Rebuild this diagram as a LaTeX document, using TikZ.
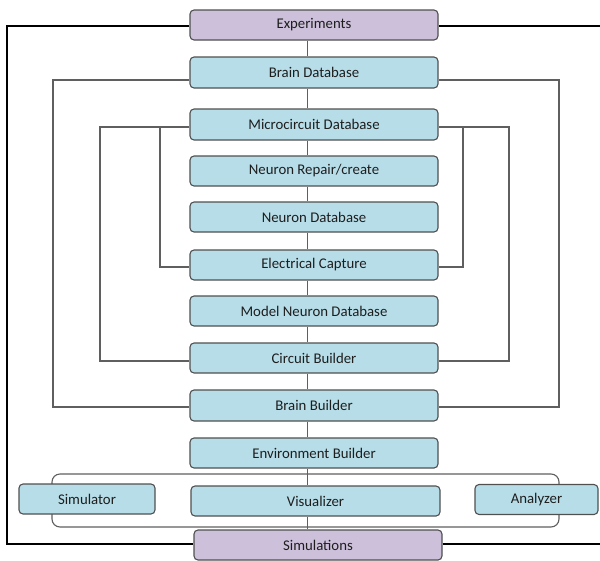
\documentclass[tikz,border=0pt]{standalone}
\usepackage{fontspec}
\setmainfont{Carlito}
\usetikzlibrary{calc}
\definecolor{boxblue}{RGB}{183,221,232}
\definecolor{boxpurple}{RGB}{204,192,218}
\definecolor{boxedge}{RGB}{80,80,80}
\definecolor{linkgray}{RGB}{95,95,95}
\definecolor{txt}{RGB}{30,30,30}
\tikzset{
  stage/.style={draw=boxedge, line width=1.1pt, rounded corners=4pt, fill=boxblue,
    minimum width=248pt, minimum height=30pt, inner sep=0pt, text=txt,
    font=\fontsize{14.8}{16}\selectfont},
  endpoint/.style={stage, fill=boxpurple},
  outerlink/.style={draw=black, line width=1.1pt},
  innerlink/.style={draw=linkgray, line width=1.1pt},
  spinelink/.style={draw=linkgray, line width=1pt},
  groupbox/.style={draw=linkgray, line width=1.1pt, rounded corners=8pt}
}
\begin{document}
\begin{tikzpicture}[x=1pt,y=-1pt]
\useasboundingbox (0,0) rectangle (600,560);
% group frame behind the tools
\draw[groupbox] (52,474) rectangle (559,527);
% nodes
\node[endpoint] (exp) at (314,25) {Experiments};
\node[stage, minimum height=31pt] (bdb) at (314,72.5) {Brain Database};
\node[stage, minimum height=31pt] (mdb) at (314,124.5) {Microcircuit Database};
\node[stage] (nrc) at (314,171) {Neuron Repair/create};
\node[stage] (ndb) at (314,217) {Neuron Database};
\node[stage] (ec) at (314,265) {Electrical Capture};
\node[stage] (mndb) at (314,311) {Model Neuron Database};
\node[stage] (cb) at (314,358) {Circuit Builder};
\node[stage, minimum height=31pt] (bb) at (314,405.5) {Brain Builder};
\node[stage] (eb) at (314,453) {Environment Builder};
\node[stage, minimum width=136pt] (simr) at (87,499) {Simulator};
\node[stage, minimum width=249pt] (vis) at (315.5,501) {Visualizer};
\node[stage, minimum width=123pt] (ana) at (536.5,499.5) {Analyzer};
\node[endpoint] (sims) at (318,545) {Simulations};
% spine
\coordinate (spine) at (307.5,0);
\foreach \a/\b in {exp/bdb,bdb/mdb,mdb/nrc,nrc/ndb,ndb/ec,ec/mndb,mndb/cb,cb/bb,bb/eb,eb/vis,vis/sims}
  \draw[spinelink] (\a.south -| spine) -- (\b.north -| spine);
% loop columns
\coordinate (outerL) at (7,0);
\coordinate (outerR) at (600,0);
\coordinate (brainL) at (53,0);
\coordinate (brainR) at (559,0);
\coordinate (mcL) at (100,0);
\coordinate (mcR) at (509,0);
\coordinate (ecL) at (160,0);
\coordinate (ecR) at (463,0);
% anchor points on the boxes
\coordinate (expW) at ([yshift=-1pt]exp.west);
\coordinate (expE) at ([yshift=-1pt]exp.east);
\coordinate (simsW) at ([yshift=1pt]sims.west);
\coordinate (simsE) at ([yshift=1pt]sims.east);
\coordinate (bdbW) at ([yshift=-7.5pt]bdb.west);
\coordinate (bdbE) at ([yshift=-7.5pt]bdb.east);
\coordinate (bbW) at ([yshift=-1.5pt]bb.west);
\coordinate (bbE) at ([yshift=-1.5pt]bb.east);
\coordinate (mdbW) at ([yshift=-2.5pt]mdb.west);
\coordinate (mdbE) at ([yshift=-2.5pt]mdb.east);
\coordinate (cbW) at ([yshift=-3pt]cb.west);
\coordinate (cbE) at ([yshift=-3pt]cb.east);
\coordinate (ecW) at ([yshift=-2pt]ec.west);
\coordinate (ecE) at ([yshift=-2pt]ec.east);
% outer loop
\draw[outerlink] (expW) -- (expW -| outerL) -- (simsW -| outerL) -- (simsW);
\draw[outerlink] (expE) -- (expE -| outerR);
\draw[outerlink] (simsE) -- (simsE -| outerR);
% brain loop
\draw[innerlink] (bdbW) -- (bdbW -| brainL) -- (bbW -| brainL) -- (bbW);
\draw[innerlink] (bdbE) -- (bdbE -| brainR) -- (bbE -| brainR) -- (bbE);
% microcircuit loops
\draw[innerlink] (mdbW) -- (mdbW -| mcL) -- (cbW -| mcL) -- (cbW);
\draw[innerlink] (mdbE) -- (mdbE -| mcR) -- (cbE -| mcR) -- (cbE);
\draw[innerlink] (mdbW -| ecL) -- (ecW -| ecL) -- (ecW);
\draw[innerlink] (mdbE -| ecR) -- (ecE -| ecR) -- (ecE);
\end{tikzpicture}
\end{document}
